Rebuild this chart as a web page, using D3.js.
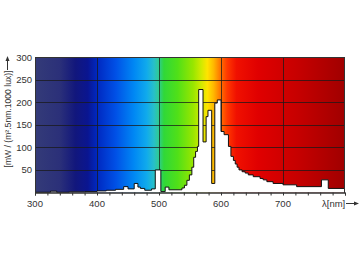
<!DOCTYPE html>
<html><head><meta charset="utf-8">
<script src="https://cdn.jsdelivr.net/npm/d3@7"></script>
<style>
html,body{margin:0;padding:0;background:#fff;}
svg{display:block;font-family:"Liberation Sans",Arial,sans-serif;}
</style></head>
<body>
<svg id="chart" width="360" height="262"></svg>
<script>
// Spectral power distribution (step data): left edge wavelength [nm] and value
const wavelengths = [300,325,335,355,380,400,415,430,443,450,460,466,470,477,488,494,503,510,516,537,541,545,549,553,556,559,562,564,571,576,579,585,590,594,600,605,612,616,620,623,626,629,634,639,644,652,663,668,674,684,700,722,762,773];
const values = [0.5,3,0.5,1.5,2,3.5,5,7,13,8,20,12,9,5,8,50,2,12,6,10,16,27,39,56,78,91,102,228,112,168,182,20,198,205,135,128,102,80,71,63,56,50,46,43,39,35,31,28,24,20,17,13,28,9];
const xDomain = [300, 800];
const yDomain = [0, 300];
const xTickLabels = [300, 400, 500, 600, 700];
const yTickLabels = [50, 100, 150, 200, 250, 300];
const xMinorTicks = d3.range(300, 801, 20);
const yTitle = "[mW / (m\u00B2.5nm.1000 lux)]";
const xTitle = "\u03BB[nm]";

// background spectrum colours
const specW = [300,340,365,385,400,430,460,480,492,500,508,530,555,568,578,588,598,610,625,660,720,800];
const specC = ["#343b78","#2b3079","#12177c","#0a1590","#0028c0","#0050e6","#0088f4","#10aaec","#28c0c8","#30cc90","#30d838","#50e018","#98e600","#d0ea00","#ffe400","#ffb800","#ff7a00","#ff3800","#f01000","#e00000","#c80000","#a00000"];

const svg = d3.select("#chart");
const m = {l:35, t:57, r:345, b:192.5};
const x = d3.scaleLinear().domain(xDomain).range([m.l, m.r]);
const y = d3.scaleLinear().domain(yDomain).range([m.b, m.t]);

const defs = svg.append("defs");
const grad = defs.append("linearGradient").attr("id","spec")
  .attr("gradientUnits","userSpaceOnUse")
  .attr("x1", x(xDomain[0])).attr("x2", x(xDomain[1])).attr("y1",0).attr("y2",0);
specW.forEach((w,i)=>{
  grad.append("stop").attr("offset", (w-xDomain[0])/(xDomain[1]-xDomain[0])).attr("stop-color", specC[i]);
});

svg.append("rect").attr("x", m.l).attr("y", m.t).attr("width", m.r-m.l).attr("height", m.b-m.t)
  .attr("fill","url(#spec)");

// grid
const g = svg.append("g").attr("stroke","#1a1a1a").attr("stroke-opacity",0.75).attr("stroke-width",1);
xTickLabels.filter(v=>v>xDomain[0]).forEach(v=>{
  g.append("line").attr("x1", Math.round(x(v))+0.5).attr("x2", Math.round(x(v))+0.5).attr("y1", m.t).attr("y2", m.b);
});
yTickLabels.filter(v=>v<yDomain[1]).forEach(v=>{
  g.append("line").attr("y1", Math.round(y(v))+0.5).attr("y2", Math.round(y(v))+0.5).attr("x1", m.l).attr("x2", m.r);
});

// spectrum
const pts = wavelengths.map((w,i)=>({w:w, v:values[i]}));
pts.push({w: xDomain[1], v: values[values.length-1]});
const area = d3.area().x(d=>x(d.w)).y0(y(0)).y1(d=>y(d.v)).curve(d3.curveStepAfter);
const line = d3.line().x(d=>x(d.w)).y(d=>y(d.v)).curve(d3.curveStepAfter);
svg.append("path").datum(pts).attr("d", area).attr("fill","#fff");
svg.append("path").datum(pts).attr("d", line).attr("fill","none").attr("stroke","#111").attr("stroke-width",1);

// frame
svg.append("rect").attr("x", m.l+0.5).attr("y", m.t+0.5).attr("width", m.r-m.l-1).attr("height", m.b-m.t)
  .attr("fill","none").attr("stroke","#333").attr("stroke-width",1);

// x axis
const xAxis = d3.axisBottom(x).tickValues(xMinorTicks).tickSize(3).tickFormat("");
const xa = svg.append("g").attr("transform",`translate(0,${m.b})`).call(xAxis);
xa.select(".domain").attr("stroke","#333");
xa.selectAll(".tick line").attr("stroke","#333");
svg.append("g").selectAll("text").data(xTickLabels).join("text")
  .attr("x", d=>x(d)).attr("y", 207).attr("text-anchor","middle")
  .attr("font-size", 9.5).attr("fill","#333").text(d=>d);

// y axis labels
svg.append("g").selectAll("text").data(yTickLabels).join("text")
  .attr("x", 32).attr("y", d=>y(d)+3.5).attr("text-anchor","end")
  .attr("font-size", 9.5).attr("fill","#333").text(d=>d);

// titles
svg.append("text").attr("transform","translate(11,119) rotate(-90)").attr("text-anchor","middle")
  .attr("font-size", 8.6).attr("fill","#333").text(yTitle);
svg.append("line").attr("x1",7.5).attr("x2",7.5).attr("y1",70).attr("y2",60).attr("stroke","#333");
svg.append("path").attr("d","M7.5,56 L5.5,61 L9.5,61 Z").attr("fill","#333");

svg.append("text").attr("x", 322).attr("y", 207).attr("font-size", 9.5).attr("fill","#333").text(xTitle);
svg.append("line").attr("x1",346).attr("x2",355).attr("y1",203.5).attr("y2",203.5).attr("stroke","#333");
svg.append("path").attr("d","M359,203.5 L354,201.5 L354,205.5 Z").attr("fill","#333");
</script>
</body></html>
